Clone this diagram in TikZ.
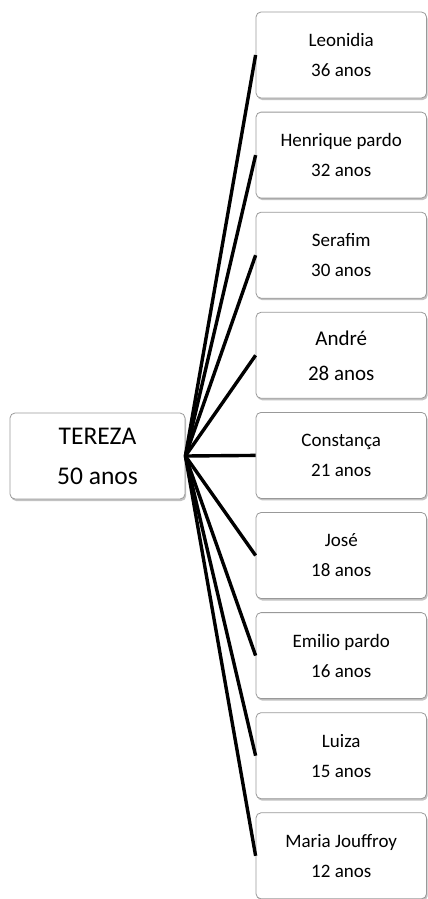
\documentclass[tikz,border=0pt]{standalone}
\usepackage{fontspec}
\setmainfont{Carlito}
\usetikzlibrary{shadows}
\begin{document}
\begin{tikzpicture}[x=1pt,y=-1pt,
  box/.style={draw=black!40, line width=0.8pt, rounded corners=5pt, fill=white,
    drop shadow={shadow xshift=1.2pt, shadow yshift=-2pt, opacity=0.4, fill=black!60},
    inner sep=0pt, align=center},
  kid/.style={box, minimum width=170.5pt, minimum height=86pt, font=\fontsize{19}{30}\selectfont},
  link/.style={line width=3.4pt, black}]
\useasboundingbox (0,0) rectangle (428,899);
\node[box, minimum width=175pt, minimum height=86pt, font=\fontsize{25.5}{40}\selectfont] (t) at (97.5,456) {TEREZA\\50 anos};
\node[kid] (k1) at (341.25,55) {Leonidia\\36 anos};
\node[kid] (k2) at (341.25,155.1) {Henrique pardo\\32 anos};
\node[kid] (k3) at (341.25,255.2) {Serafim\\30 anos};
\node[kid, font=\fontsize{21}{35}\selectfont] (k4) at (341.25,355.3) {André\\28 anos};
\node[kid] (k5) at (341.25,455.4) {Constança\\21 anos};
\node[kid] (k6) at (341.25,555.5) {José\\18 anos};
\node[kid] (k7) at (341.25,655.6) {Emilio pardo\\16 anos};
\node[kid] (k8) at (341.25,755.7) {Luiza\\15 anos};
\node[kid] (k9) at (341.25,855.8) {Maria Jouffroy\\12 anos};
\foreach \i in {1,...,9} \draw[link] (t.east) -- (k\i.west);
\end{tikzpicture}
\end{document}
